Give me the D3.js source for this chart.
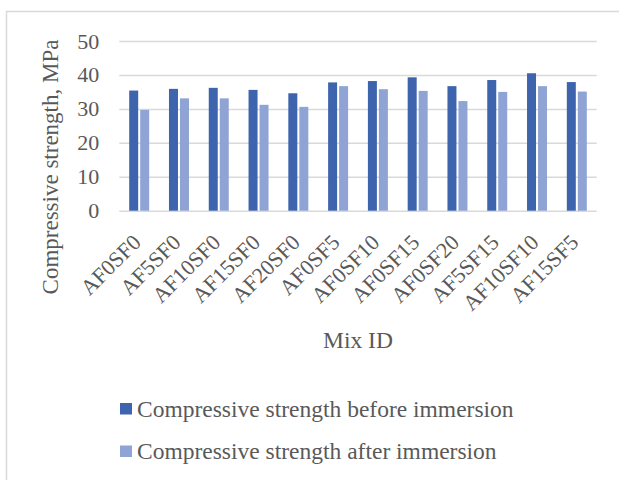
<!DOCTYPE html>
<html>
<head>
<meta charset="utf-8">
<script src="https://cdn.jsdelivr.net/npm/d3@7"></script>
<style>
  body { margin: 0; background: #fff; }
  svg { display: block; }
</style>
</head>
<body>
<script>
const width = 619;
const height = 480;
const margin = { l: 119.3, r: 22.3, t: 41, b: 269.3 };

const mixIds = ["AF0SF0", "AF5SF0", "AF10SF0", "AF15SF0", "AF20SF0", "AF0SF5",
  "AF0SF10", "AF0SF15", "AF0SF20", "AF5SF15", "AF10SF10", "AF15SF5"];
const beforeImmersion = [35.4, 35.9, 36.2, 35.6, 34.6, 37.8, 38.2, 39.3, 36.7, 38.5, 40.5, 37.9];
const afterImmersion = [29.7, 33.1, 33.1, 31.2, 30.6, 36.7, 35.8, 35.3, 32.3, 35.0, 36.7, 35.1];
const seriesNames = ["Compressive strength before immersion", "Compressive strength after immersion"];
const yTicks = [0, 10, 20, 30, 40, 50];

const colors = { before: "#3E64AE", after: "#8FA4D4", grid: "#D9D9D9", text: "#595959" };
const font = "'Liberation Serif', 'Times New Roman', serif";

const svg = d3.select("body")
  .append("svg")
  .attr("width", width)
  .attr("height", height);

// outer chart frame (runs off the right and bottom)
svg.append("rect")
  .attr("x", 6.5).attr("y", 11.5)
  .attr("width", 700).attr("height", 600)
  .style("fill", "none")
  .style("stroke", colors.grid)
  .style("stroke-width", 1.5);

const plotW = width - margin.l - margin.r;
const plotH = height - margin.t - margin.b;
const g = svg.append("g").attr("transform", `translate(${margin.l},${margin.t})`);

const x0 = d3.scaleBand().domain(mixIds).range([0, plotW]);
const x1 = d3.scaleBand()
  .domain(["before", "after"])
  .range([x0.bandwidth() / 2 - 10, x0.bandwidth() / 2 + 10])
  .paddingInner(2 / 11);
const y = d3.scaleLinear().domain([0, 50]).range([plotH, 0]);

// gridlines + tick labels
const yAxis = g.append("g")
  .call(d3.axisLeft(y).tickValues(yTicks).tickSize(-plotW).tickPadding(20));
yAxis.select(".domain").remove();
yAxis.selectAll(".tick line")
  .style("stroke", colors.grid)
  .style("stroke-width", 1.5);
yAxis.selectAll(".tick text")
  .style("font-family", font)
  .style("font-size", "22px")
  .style("fill", colors.text);

// bars
const rows = mixIds.map((id, i) => ({ id, before: beforeImmersion[i], after: afterImmersion[i] }));
const groups = g.selectAll("g.mix")
  .data(rows)
  .enter()
  .append("g")
  .classed("mix", true)
  .attr("transform", (d) => `translate(${x0(d.id)},0)`);

groups.selectAll("rect")
  .data((d) => ["before", "after"].map((k) => ({ k, v: d[k] })))
  .enter()
  .append("rect")
  .attr("x", (d) => x1(d.k))
  .attr("width", x1.bandwidth())
  .attr("y", (d) => y(d.v))
  .attr("height", (d) => y(0) - y(d.v))
  .style("fill", (d) => colors[d.k]);

// x labels, rotated 45deg, text end just right of the category centre
const xAxis = g.append("g")
  .attr("transform", `translate(0,${plotH})`)
  .call(d3.axisBottom(x0).tickSize(0).tickPadding(0));
xAxis.select(".domain").remove();
xAxis.selectAll(".tick text")
  .attr("y", 0)
  .attr("dy", 0)
  .attr("transform", "translate(3,33) rotate(-45)")
  .style("text-anchor", "end")
  .style("font-family", font)
  .style("font-size", "22px")
  .style("fill", colors.text);

// axis titles
svg.append("text")
  .attr("x", margin.l + plotW / 2)
  .attr("y", 348)
  .attr("text-anchor", "middle")
  .style("font-family", font)
  .style("font-size", "23.5px")
  .style("fill", colors.text)
  .text("Mix ID");

svg.append("text")
  .attr("transform", "translate(58,167) rotate(-90)")
  .attr("text-anchor", "middle")
  .style("font-family", font)
  .style("font-size", "23px")
  .style("fill", colors.text)
  .text("Compressive strength, MPa");

// legend
const legend = svg.append("g").classed("legend", true);
["before", "after"].forEach((k, i) => {
  const ly = 403 + i * 42.5;
  legend.append("rect")
    .attr("x", 120).attr("y", ly)
    .attr("width", 12).attr("height", 11.5)
    .style("fill", colors[k]);
  legend.append("text")
    .attr("x", 137).attr("y", ly + 13.5)
    .style("font-family", font)
    .style("font-size", "23.5px")
    .style("fill", colors.text)
    .text(seriesNames[i]);
});
</script>
</body>
</html>
